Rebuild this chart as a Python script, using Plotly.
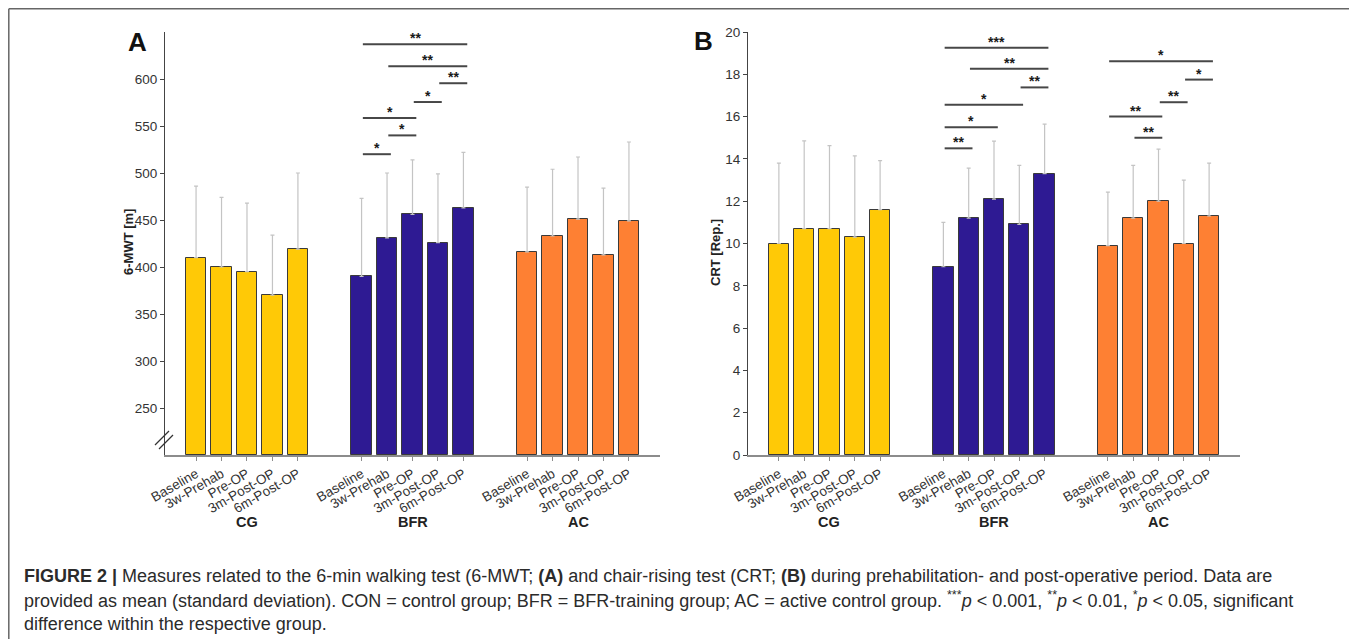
import plotly.graph_objects as go

# ---------------- data ----------------
timepoints = ["Baseline", "3w-Prehab", "Pre-OP", "3m-Post-OP", "6m-Post-OP"]
groups = ["CG", "BFR", "AC"]
group_colors = ["#FFC906", "#2E1A93", "#FE8033"]

# Panel A: 6-MWT [m]  (mean, mean+SD)
mwt_cg = [410, 400, 395, 370, 419]
mwt_cg_top = [486, 474, 468, 434, 500]
mwt_bfr = [390, 431, 456, 426, 463]
mwt_bfr_top = [473, 500, 514, 499, 522]
mwt_ac = [416, 433, 451, 413, 449]
mwt_ac_top = [485, 504, 517, 484, 533]

# Panel B: CRT [Rep.]
crt_cg = [10.0, 10.7, 10.7, 10.3, 11.6]
crt_cg_top = [13.8, 14.85, 14.63, 14.14, 13.92]
crt_bfr = [8.9, 11.2, 12.1, 10.9, 13.3]
crt_bfr_top = [11.0, 13.56, 14.84, 13.69, 15.64]
crt_ac = [9.9, 11.2, 12.0, 10.0, 11.3]
crt_ac_top = [12.43, 13.69, 14.46, 13.0, 13.8]

# significance brackets: (group index, from timepoint, to timepoint, height, label)
sig_a = [
    (1, 0, 4, 637, "**"),
    (1, 1, 4, 613.5, "**"),
    (1, 3, 4, 595.5, "**"),
    (1, 2, 3, 575.5, "*"),
    (1, 0, 2, 558.5, "*"),
    (1, 1, 2, 540, "*"),
    (1, 0, 1, 520, "*"),
]
sig_b = [
    (1, 0, 4, 19.25, "***"),
    (1, 1, 4, 18.26, "**"),
    (1, 3, 4, 17.38, "**"),
    (1, 0, 3, 16.56, "*"),
    (1, 0, 2, 15.5, "*"),
    (1, 0, 1, 14.5, "**"),
    (2, 0, 4, 18.62, "*"),
    (2, 3, 4, 17.75, "*"),
    (2, 2, 3, 16.68, "**"),
    (2, 0, 2, 16.0, "**"),
    (2, 1, 2, 15.0, "**"),
]

# page body has an 8px margin -> figure drawn from (8, 8)
OFF = 8
W, H = 1357 - OFF, 639 - OFF
FONT = "Liberation Sans, Arial, Helvetica, sans-serif"
TXT = "#333333"


def pos(g, i):
    return g * 6.5 + i


def px_x(p):
    return (p - OFF) / W


def px_y(p):
    return 1 - (p - OFF) / H


fig = go.Figure()

panels = [
    ("x", "y", [mwt_cg, mwt_bfr, mwt_ac], [mwt_cg_top, mwt_bfr_top, mwt_ac_top], 200),
    ("x2", "y2", [crt_cg, crt_bfr, crt_ac], [crt_cg_top, crt_bfr_top, crt_ac_top], 0),
]

for xa, ya, means, tops, base in panels:
    for g, (m, t) in enumerate(zip(means, tops)):
        fig.add_trace(go.Bar(
            x=[pos(g, i) for i in range(len(m))],
            y=[v - base for v in m],
            base=base,
            width=0.8,
            marker=dict(color=group_colors[g], line=dict(color="#3a3a3a", width=1)),
            error_y=dict(type="data", symmetric=False,
                         array=[tt - v for tt, v in zip(t, m)],
                         arrayminus=[0] * len(m),
                         color="#c4c4c4", thickness=1.2, width=2),
            xaxis=xa, yaxis=ya, showlegend=False, hoverinfo="skip",
        ))

# significance brackets
for xa, ya, sigs in [("x", "y", sig_a), ("x2", "y2", sig_b)]:
    for g, i1, i2, h, lab in sigs:
        x1, x2 = pos(g, i1) + 0.05, pos(g, i2) + 0.15
        fig.add_shape(type="line", xref=xa, yref=ya, x0=x1, x1=x2, y0=h, y1=h,
                      line=dict(color="#474747", width=2))
        fig.add_annotation(xref=xa, yref=ya, x=(x1 + x2) / 2, y=h, yshift=6,
                           text=f"<b>{lab}</b>", showarrow=False, xanchor="center",
                           font=dict(size=14, color="#1a1a1a", family=FONT),
                           yanchor="middle")

tickvals = [pos(g, i) for g in range(3) for i in range(5)]
ticktext = timepoints * 3

ydom = [px_y(455), px_y(32)]
xaxis_common = dict(
    range=[-1.22, 18.22], tickvals=tickvals, ticktext=ticktext, tickangle=-30,
    showline=True, linecolor="#8c8c8c", linewidth=2, ticks="outside", ticklen=4,
    tickcolor="#8c8c8c", tickfont=dict(size=13.5, color=TXT, family=FONT),
    showgrid=False, zeroline=False, fixedrange=True, automargin=False,
)
yaxis_common = dict(
    showline=True, linecolor="#444444", linewidth=1, ticks="outside", ticklen=4,
    tickcolor="#444444", tickfont=dict(size=13.5, color=TXT, family=FONT),
    showgrid=False, zeroline=False, fixedrange=True, domain=ydom, automargin=False,
)

fig.update_layout(
    template="none",
    width=W, height=H, autosize=False,
    margin=dict(l=0, r=0, t=0, b=0, pad=0),
    paper_bgcolor="white", plot_bgcolor="white",
    bargap=0, font=dict(family=FONT, color=TXT),
    showlegend=False,
    xaxis=dict(domain=[px_x(165), px_x(660)], anchor="y", **xaxis_common),
    xaxis2=dict(domain=[px_x(748), px_x(1240)], anchor="y2", **xaxis_common),
    yaxis=dict(range=[200, 650], tickvals=[250, 300, 350, 400, 450, 500, 550, 600],
               anchor="x", **yaxis_common),
    yaxis2=dict(range=[0, 20], tickvals=list(range(0, 21, 2)), anchor="x2", **yaxis_common),
)

# axis titles
fig.add_annotation(xref="paper", yref="paper", x=px_x(128), y=px_y(242), text="<b>6-MWT [m]</b>",
                   textangle=-90, showarrow=False, xanchor="center", yanchor="middle",
                   font=dict(size=13, color="#222222", family=FONT))
fig.add_annotation(xref="paper", yref="paper", x=px_x(715), y=px_y(253), text="<b>CRT [Rep.]</b>",
                   textangle=-90, showarrow=False, xanchor="center", yanchor="middle",
                   font=dict(size=13, color="#222222", family=FONT))

# group labels
for xa in ["x", "x2"]:
    for g, name in enumerate(groups):
        fig.add_annotation(xref=xa, yref="paper", x=pos(g, 2), y=px_y(522), text=f"<b>{name}</b>",
                           showarrow=False, xanchor="center", yanchor="middle",
                           font=dict(size=14.5, color="#222222", family=FONT))

# panel letters
fig.add_annotation(xref="paper", yref="paper", x=px_x(137.5), y=px_y(42), text="<b>A</b>",
                   showarrow=False, xanchor="center", yanchor="middle",
                   font=dict(size=26, color="#111111", family=FONT))
fig.add_annotation(xref="paper", yref="paper", x=px_x(703), y=px_y(41), text="<b>B</b>",
                   showarrow=False, xanchor="center", yanchor="middle",
                   font=dict(size=26, color="#111111", family=FONT))

# axis break mark
for (xa0, ya0, xa1, ya1) in [(155, 445, 169, 431), (159, 449, 173, 435)]:
    fig.add_shape(type="line", xref="paper", yref="paper",
                  x0=px_x(xa0), y0=px_y(ya0), x1=px_x(xa1), y1=px_y(ya1),
                  line=dict(color="#333333", width=1.3))

# frame (left, top, right edges; bottom lies below the visible page)
frame_pts = [((8.8, 700), (8.8, 8.8)), ((8.8, 8.8), (1353.5, 8.8)), ((1353.5, 8.8), (1353.5, 700))]
for (a0, b0), (a1, b1) in frame_pts:
    fig.add_shape(type="line", xref="paper", yref="paper",
                  x0=px_x(a0), y0=px_y(b0), x1=px_x(a1), y1=px_y(b1),
                  line=dict(color="#666666", width=1.5))

# caption
cap = [
    "<b>FIGURE 2 |</b> Measures related to the 6-min walking test (6-MWT; <b>(A)</b> and chair-rising test "
    "(CRT; <b>(B)</b> during prehabilitation- and post-operative period. Data are",
    "provided as mean (standard deviation). CON = control group; BFR = BFR-training group; AC = active "
    "control group. <sup>***</sup><i>p</i> &lt; 0.001, <sup>**</sup><i>p</i> &lt; 0.01, "
    "<sup>*</sup><i>p</i> &lt; 0.05, significant",
    "difference within the respective group.",
]
for k, line in enumerate(cap):
    fig.add_annotation(xref="paper", yref="paper", x=px_x(22), y=px_y(575.5 + 24 * k),
                       xanchor="left", yanchor="middle", text=line, showarrow=False,
                       font=dict(size=18, color="#2b2b2b", family=FONT))

fig.write_html("out.html")
